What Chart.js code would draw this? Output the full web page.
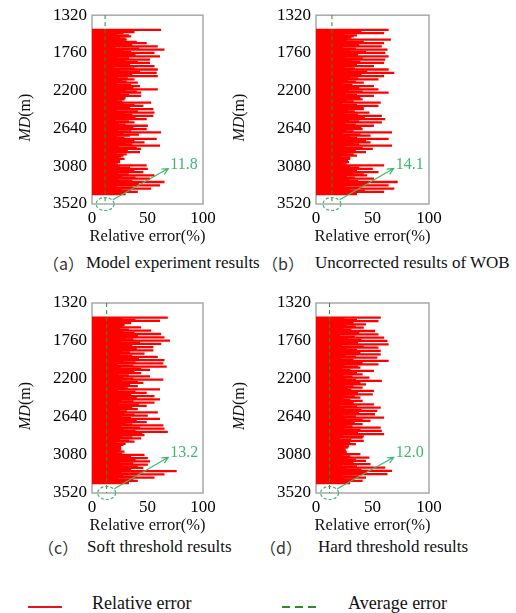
<!DOCTYPE html>
<html>
<head>
<meta charset="utf-8">
<script src="https://cdn.jsdelivr.net/npm/chart.js@4.4.0/dist/chart.umd.min.js"></script>
<style>
  body { margin: 0; background: #fff; width: 516px; height: 613px; position: relative; overflow: hidden;
         font-family: "Liberation Serif", serif; color: #111; }
  canvas { position: absolute; }
  .cap { position: absolute; font-size: 17px; line-height: 20px; white-space: nowrap; }
  .par { font-family: "Noto Sans CJK SC", sans-serif; font-size: 16px; color: #333; }
  .leg { position: absolute; font-size: 18px; line-height: 20px; white-space: nowrap; }
</style>
</head>
<body>
<canvas id="chartA" width="225" height="250" style="left:0;top:0"></canvas>
<canvas id="chartB" width="291" height="250" style="left:225px;top:0"></canvas>
<canvas id="chartC" width="225" height="250" style="left:0;top:285px"></canvas>
<canvas id="chartD" width="291" height="250" style="left:225px;top:285px"></canvas>

<div class="cap par" style="left:43px;top:253px">（a）</div>
<div class="cap" style="left:86px;top:253px">Model experiment results</div>
<div class="cap par" style="left:262px;top:253px">（b）</div>
<div class="cap" style="left:315px;top:253px">Uncorrected results of WOB</div>
<div class="cap par" style="left:38px;top:537px">（c）</div>
<div class="cap" style="left:87px;top:537px">Soft threshold results</div>
<div class="cap par" style="left:260px;top:537px">（d）</div>
<div class="cap" style="left:318px;top:537px">Hard threshold results</div>

<div style="position:absolute;left:28px;top:606px;width:34px;height:2px;background:#e8141c"></div>
<div class="leg" style="left:92px;top:593px">Relative error</div>
<div style="position:absolute;left:282px;top:606px;width:34px;height:2px;background:repeating-linear-gradient(to right,#2e8b2e 0 8px,transparent 8px 13px)"></div>
<div class="leg" style="left:348px;top:593px">Average error</div>

<script>
// 축 눈금
const depthTicks = [1320, 1760, 2200, 2640, 3080, 3520];
const errorTicks = [0, 50, 100];
const avgErrors = [11.8, 14.1, 13.2, 12.0];

// 상대오차 (위에서 아래로)
const errA = [62,27,38, 28,22,33, 35,25,30, 31,29,40, 49,24,36, 59,21,42, 65,28,35, 56,24,39, 61,23,33, 52,30,41,
              52,26,34, 56,20,38, 59,25,43, 58,29,36, 59,23,32, 38,27,31, 41,22,35, 43,24,37, 59,30,40, 44,26,33,
              44,19,30, 29,23,27, 53,28,38, 46,25,34, 55,22,41, 56,29,36, 55,26,39, 49,21,33, 38,24,30, 50,27,37,
              49,23,35, 62,28,42, 34,22,29, 58,25,38, 47,30,36, 61,24,40, 44,20,32, 43,22,31, 28,26,24, 29,18,25,
              25,21,23, 49,25,34, 50,28,38, 46,23,33, 56,27,39, 52,24,36, 65,29,42, 61,22,37, 53,26,35, 41,25,30];
const errB = [64,29,40, 60,25,36, 33,31,28, 66,27,42, 60,33,38, 58,24,35, 63,30,44, 61,28,37, 64,26,41, 61,32,39,
              60,29,36, 51,25,34, 64,31,45, 69,27,40, 60,30,37, 55,28,35, 42,24,32, 51,32,38, 55,29,41, 64,26,36,
              51,31,39, 41,27,33, 57,23,36, 55,30,42, 42,28,34, 47,25,37, 58,32,43, 61,29,38, 58,26,35, 51,31,40,
              41,27,33, 67,24,39, 48,30,36, 64,28,44, 48,33,38, 67,25,41, 50,29,35, 44,27,33, 36,23,30, 30,26,28,
              29,24,27, 60,30,38, 50,28,36, 55,32,42, 45,27,34, 51,29,37, 72,31,45, 64,26,40, 69,30,43, 60,28,36];
const errC = [68,27,39, 61,23,35, 29,29,27, 44,25,33, 53,28,38, 62,22,41, 65,30,37, 70,26,43, 62,24,36, 55,29,40,
              55,27,34, 47,25,36, 59,31,42, 65,28,39, 64,23,37, 67,26,44, 52,30,38, 44,24,33, 52,28,37, 64,27,41,
              46,25,34, 41,29,32, 61,23,39, 49,27,35, 56,30,40, 61,26,37, 56,24,42, 49,28,36, 41,25,31, 59,29,38,
              50,27,35, 61,23,40, 49,30,36, 64,26,43, 65,28,39, 68,24,45, 47,27,36, 44,25,33, 38,22,30, 28,24,26,
              26,26,25, 29,23,27, 47,28,35, 50,30,39, 52,25,37, 50,27,41, 46,29,35, 76,26,44, 65,28,40, 56,24,37, 41,27,33];
const errD = [57,25,36, 55,22,33, 44,27,35, 42,24,31, 52,26,38, 55,21,34, 60,28,40, 63,25,37, 64,23,42, 55,27,36,
              57,24,39, 57,26,35, 54,22,33, 64,28,41, 55,25,37, 39,23,30, 51,27,36, 41,24,32, 47,26,35, 58,22,39,
              44,25,33, 41,28,31, 51,23,37, 50,26,34, 39,24,30, 41,27,33, 51,21,36, 57,25,40, 54,28,38, 52,24,35,
              60,26,41, 48,23,34, 41,27,32, 57,25,39, 58,22,37, 60,24,42, 41,21,31, 42,23,30, 35,26,29, 28,25,26,
              26,27,24, 39,24,30, 47,28,35, 44,25,33, 48,23,36, 61,26,40, 67,27,44, 63,24,38, 44,25,34, 41,23,30];

// 측정 심도 범위
const depthTop = 1490, depthBottom = 3405;

const RED = '#ff0000';
const LINE_GREEN = '#2e8b2e';
const NOTE_GREEN = '#3cb96e';
const SERIF = '"Liberation Serif"';

function toPoints(values) {
    const step = (depthBottom - depthTop) / (values.length - 1);
    return values.map((v, i) => ({ x: v, y: depthTop + i * step }));
}

// 테두리, 평균선, 주석, 축 제목
const decorPlugin = {
    id: 'decor',
    beforeDatasetsDraw(chart) {
        const { ctx, chartArea: a } = chart;
        ctx.save();
        ctx.strokeStyle = '#a8a8a8';
        ctx.lineWidth = 1.5;
        ctx.strokeRect(a.left, a.top, a.right - a.left, a.bottom - a.top);
        ctx.restore();
    },
    afterDatasetsDraw(chart, args, opts) {
        const { ctx, scales: { x, y } } = chart;
        const ax = x.getPixelForValue(opts.avg);
        ctx.save();
        ctx.strokeStyle = LINE_GREEN;
        ctx.lineWidth = 1;
        ctx.setLineDash([4, 3]);
        ctx.beginPath();
        ctx.moveTo(ax, y.getPixelForValue(1320));
        ctx.lineTo(ax, y.getPixelForValue(3520));
        ctx.stroke();
        ctx.restore();
    },
    afterDraw(chart, args, opts) {
        const { ctx, chartArea: a, scales: { x, y } } = chart;
        const cx = x.getPixelForValue(opts.avg);
        const cy = y.getPixelForValue(3520);
        ctx.save();
        // 원
        ctx.strokeStyle = NOTE_GREEN;
        ctx.lineWidth = 1.2;
        ctx.setLineDash([3, 2]);
        ctx.beginPath();
        ctx.ellipse(cx, cy, 9, 6.5, 0, 0, Math.PI * 2);
        ctx.stroke();
        // 화살표
        ctx.setLineDash([]);
        const sx = cx + 7.7, sy = cy - 4.2;
        const tx = x.getPixelForValue(68.7), ty = y.getPixelForValue(3107);
        ctx.beginPath();
        ctx.moveTo(sx, sy);
        ctx.lineTo(tx, ty);
        const ang = Math.atan2(ty - sy, tx - sx);
        ctx.moveTo(tx - 7 * Math.cos(ang - 0.45), ty - 7 * Math.sin(ang - 0.45));
        ctx.lineTo(tx, ty);
        ctx.lineTo(tx - 7 * Math.cos(ang + 0.45), ty - 7 * Math.sin(ang + 0.45));
        ctx.stroke();
        // 평균값
        ctx.fillStyle = NOTE_GREEN;
        ctx.font = '16px ' + SERIF;
        ctx.textAlign = 'left';
        ctx.textBaseline = 'alphabetic';
        ctx.fillText(opts.avg.toFixed(1), tx + 2, ty);

        // x축 제목
        ctx.fillStyle = '#111';
        ctx.font = '16.5px ' + SERIF;
        ctx.textAlign = 'center';
        ctx.textBaseline = 'middle';
        ctx.fillText('Relative error(%)', (a.left + a.right) / 2, a.bottom + 33);

        // y축 제목 (MD 이탤릭)
        ctx.translate(opts.titleX, (a.top + a.bottom) / 2 + 8);
        ctx.rotate(-Math.PI / 2);
        ctx.textAlign = 'left';
        ctx.font = 'italic 16px ' + SERIF;
        const w1 = ctx.measureText('MD').width;
        ctx.font = '16px ' + SERIF;
        const w2 = ctx.measureText('(m)').width;
        const start = -(w1 + w2) / 2;
        ctx.font = 'italic 16px ' + SERIF;
        ctx.fillText('MD', start, 0);
        ctx.font = '16px ' + SERIF;
        ctx.fillText('(m)', start + w1, 0);
        ctx.restore();
    }
};

function drawPanel(id, values, avg, cfg) {
    const ctx = document.getElementById(id).getContext('2d');
    return new Chart(ctx, {
        type: 'bar',
        data: {
            datasets: [{
                label: 'Relative error',
                data: toPoints(values),
                backgroundColor: RED,
                borderWidth: 0,
                barThickness: 1.6
            }]
        },
        options: {
            indexAxis: 'y',
            responsive: false,
            animation: false,
            layout: { padding: { left: 0, right: cfg.padRight, top: cfg.padTop, bottom: 0 } },
            plugins: {
                legend: { display: false },
                tooltip: { enabled: false },
                decor: { avg: avg, titleX: cfg.titleX }
            },
            scales: {
                x: {
                    type: 'linear',
                    min: 0, max: 100,
                    offset: false,
                    grid: { display: false, drawTicks: false, offset: false },
                    border: { display: false },
                    afterBuildTicks: s => { s.ticks = errorTicks.map(v => ({ value: v })); },
                    ticks: { padding: 4, color: '#000', font: { family: SERIF, size: 17 }, callback: v => String(v) },
                    afterFit: s => { s.height = cfg.xHeight; }
                },
                y: {
                    type: 'linear',
                    reverse: true,
                    min: 1320, max: 3520,
                    offset: false,
                    grid: { display: false, drawTicks: false, offset: false },
                    border: { display: false },
                    afterBuildTicks: s => { s.ticks = depthTicks.map(v => ({ value: v })); },
                    ticks: { padding: 5, color: '#000', font: { family: SERIF, size: 17 }, callback: v => String(v) },
                    afterFit: s => { s.width = cfg.yWidth; }
                }
            }
        },
        plugins: [decorPlugin]
    });
}

// 글꼴 준비 후 그리기
Promise.all([
    document.fonts.load('17px "Liberation Serif"'),
    document.fonts.load('italic 16px "Liberation Serif"')
]).catch(() => {}).then(() => {
    drawPanel('chartA', errA, avgErrors[0], { padRight: 22, padTop: 14, xHeight: 46, yWidth: 92, titleX: 26 });
    drawPanel('chartB', errB, avgErrors[1], { padRight: 87, padTop: 14, xHeight: 46, yWidth: 91, titleX: 15 });
    drawPanel('chartC', errC, avgErrors[2], { padRight: 22, padTop: 18, xHeight: 42, yWidth: 92, titleX: 26 });
    drawPanel('chartD', errD, avgErrors[3], { padRight: 87, padTop: 18, xHeight: 42, yWidth: 91, titleX: 15 });
});
</script>
</body>
</html>
